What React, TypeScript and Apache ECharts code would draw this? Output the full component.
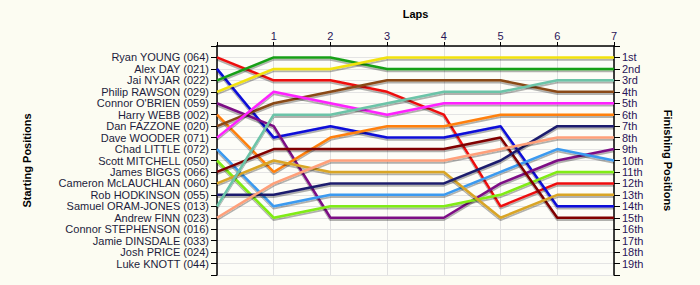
import React, { useEffect, useRef } from "react";
import * as echarts from "echarts";

const startingNames = [
  "Ryan YOUNG (064)",
  "Alex DAY (021)",
  "Jai NYJAR (022)",
  "Philip RAWSON (029)",
  "Connor O'BRIEN (059)",
  "Harry WEBB (002)",
  "Dan FAZZONE (020)",
  "Dave WOODER (071)",
  "Chad LITTLE (072)",
  "Scott MITCHELL (050)",
  "James BIGGS (066)",
  "Cameron McLAUCHLAN (060)",
  "Rob HODKINSON (055)",
  "Samuel ORAM-JONES (013)",
  "Andrew FINN (023)",
  "Connor STEPHENSON (016)",
  "Jamie DINSDALE (033)",
  "Josh PRICE (024)",
  "Luke KNOTT (044)",
];

const finishLabels = [
  "1st", "2nd", "3rd", "4th", "5th", "6th", "7th", "8th", "9th", "10th",
  "11th", "12th", "13th", "14th", "15th", "16th", "17th", "18th", "19th",
];

const laps = [0, 1, 2, 3, 4, 5, 6, 7];

// positions at lap 0..7
const ryanYoung = [1, 3, 3, 4, 6, 14, 12, 12];
const alexDay = [2, 8, 7, 8, 8, 7, 14, 14];
const jaiNyjar = [3, 1, 1, 2, 2, 2, 2, 2];
const philipRawson = [4, 2, 2, 1, 1, 1, 1, 1];
const connorOBrien = [5, 7, 15, 15, 15, 12, 10, 9];
const harryWebb = [6, 11, 8, 7, 7, 6, 6, 6];
const danFazzone = [7, 5, 4, 3, 3, 3, 4, 4];
const daveWooder = [8, 4, 5, 6, 5, 5, 5, 5];
const chadLittle = [9, 14, 13, 13, 13, 11, 9, 10];
const scottMitchell = [10, 15, 14, 14, 14, 13, 11, 11];
const jamesBiggs = [11, 9, 9, 9, 9, 8, 15, 15];
const cameronMcLauchlan = [12, 10, 11, 11, 11, 15, 13, 13];
const robHodkinson = [13, 13, 12, 12, 12, 10, 7, 7];
const samuelOramJones = [14, 6, 6, 5, 4, 4, 3, 3];
const andrewFinn = [15, 12, 10, 10, 10, 9, 8, 8];

const driverSeries = [
  ryanYoung, alexDay, jaiNyjar, philipRawson, connorOBrien, harryWebb,
  danFazzone, daveWooder, chadLittle, scottMitchell, jamesBiggs,
  cameronMcLauchlan, robHodkinson, samuelOramJones, andrewFinn,
];

const lineColors = [
  "#ee1111", "#0a0ad8", "#17a017", "#f2e20a", "#7d0f85", "#ff800d",
  "#8a4a16", "#ff22ff", "#3a9af0", "#80ec12", "#800000", "#d9a526",
  "#1f1f6e", "#6cc4a8", "#ffa07a",
];

export default function App() {
  const ref = useRef<HTMLDivElement>(null);
  useEffect(() => {
    if (!ref.current) return;
    const chart = echarts.init(ref.current, null, { renderer: "svg" });
    const font = "Liberation Sans, Arial, sans-serif";
    const series = driverSeries.map((pos, i) => ({
      type: "line",
      name: startingNames[i],
      data: laps.map((l, k) => [l, pos[k]]),
      symbol: "none",
      silent: true,
      lineStyle: {
        color: lineColors[i],
        width: 2.5,
        shadowColor: "rgba(0,0,0,0.3)",
        shadowBlur: 1,
        shadowOffsetX: 0,
        shadowOffsetY: 2,
      },
      z: 2,
    }));
    const yBase = {
      type: "value",
      min: 0,
      max: 20,
      interval: 1,
      inverse: true,
      nameLocation: "middle",
      nameTextStyle: {
        fontFamily: font,
        fontSize: 11,
        fontWeight: "bold",
        color: "#000",
      },
      axisLine: { show: true, lineStyle: { color: "#000", width: 1.5 } },
      axisTick: { show: true, length: 6, lineStyle: { color: "#000" } },
    };
    chart.setOption({
      animation: false,
      backgroundColor: "#fcfcf2",
      grid: {
        left: 217,
        right: 86,
        top: 46,
        bottom: 10,
        show: true,
        backgroundColor: "#fdfdf8",
        borderWidth: 0,
      },
      xAxis: {
        type: "value",
        position: "top",
        min: 0,
        max: 7,
        interval: 1,
        name: "Laps",
        nameLocation: "middle",
        nameGap: 27,
        nameTextStyle: {
          fontFamily: font,
          fontSize: 11,
          fontWeight: "bold",
          color: "#000",
        },
        axisLine: { show: true, lineStyle: { color: "#000", width: 1.5 } },
        axisTick: { show: true, length: 4, lineStyle: { color: "#000" } },
        axisLabel: {
          margin: 5,
          fontFamily: font,
          fontSize: 11,
          color: "#2a1458",
          formatter: (v: number) => (v === 0 ? "" : String(v)),
        },
        splitLine: { show: true, lineStyle: { color: "#e0e0e0", width: 1 } },
      },
      yAxis: [
        {
          ...yBase,
          position: "left",
          name: "Starting Positions",
          nameGap: 185,
          nameRotate: 90,
          axisLabel: {
            margin: 8,
            fontFamily: font,
            fontSize: 11,
            color: "#1c1c3c",
            formatter: (v: number) => startingNames[v - 1] || "",
          },
          splitLine: { show: true, lineStyle: { color: "#e4e4e4", width: 1 } },
        },
        {
          ...yBase,
          position: "right",
          name: "Finishing Positions",
          nameGap: 48,
          nameRotate: -90,
          axisLabel: {
            margin: 8,
            fontFamily: font,
            fontSize: 11,
            color: "#2a1458",
            formatter: (v: number) => finishLabels[v - 1] || "",
          },
          splitLine: { show: false },
        },
      ],
      series,
    });
    return () => chart.dispose();
  }, []);
  return (
    <div
      ref={ref}
      style={{ position: "fixed", left: 0, top: 0, width: 700, height: 285 }}
    />
  );
}
